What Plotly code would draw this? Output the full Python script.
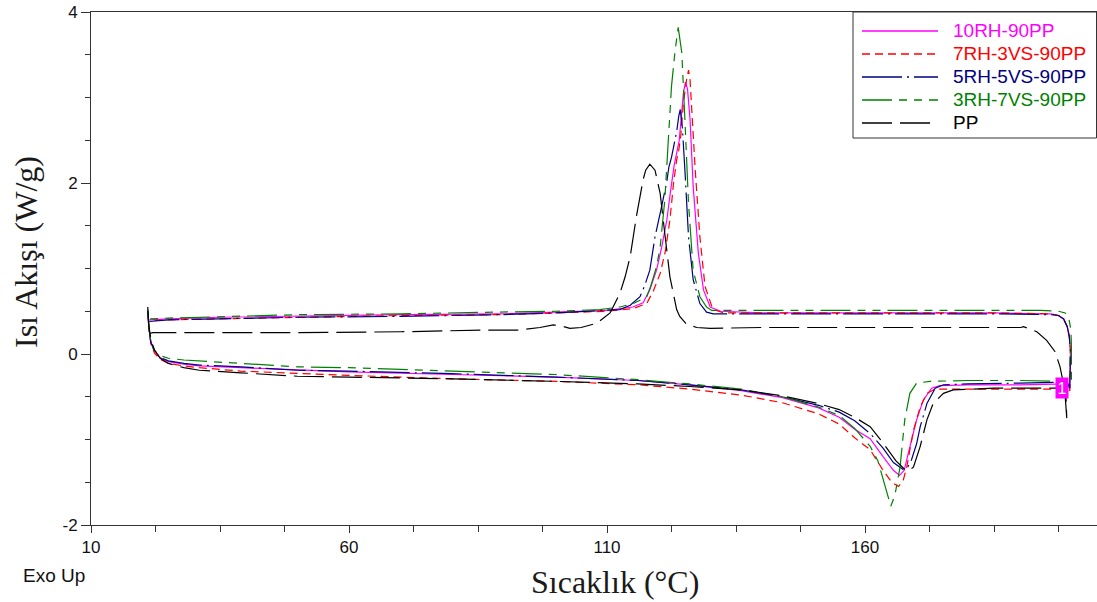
import plotly.graph_objects as go

# ---------------- data ----------------
names = ["10RH-90PP", "7RH-3VS-90PP", "5RH-5VS-90PP", "3RH-7VS-90PP", "PP"]

# heating runs (lower curves, T in degC, heat flow in W/g)
heat_t_10rh = [21.0, 21.2, 21.6, 22.3, 23.4, 25, 28, 31, 39, 50, 60, 80, 100, 116, 126, 136, 144, 151, 155, 158, 161, 163.5, 165.5, 166.7, 167.6, 168.4, 169.2, 170, 171.3, 172.9, 174.5, 180, 190, 199.2]
heat_q_10rh = [0.50, 0.32, 0.14, 0.03, -0.04, -0.09, -0.12, -0.14, -0.16, -0.19, -0.21, -0.24, -0.27, -0.31, -0.36, -0.43, -0.51, -0.63, -0.74, -0.88, -0.99, -1.20, -1.36, -1.42, -1.36, -1.16, -0.96, -0.77, -0.54, -0.40, -0.37, -0.36, -0.36, -0.35]
heat_t_7rh = [21.0, 21.2, 21.6, 22.3, 23.4, 25, 28, 31, 39, 50, 60, 80, 100, 116, 126, 136, 144, 151, 155, 158, 161, 163.5, 165.2, 166.5, 167.4, 168.1, 168.8, 169.4, 170.7, 172, 173.6, 180, 190, 199.2]
heat_q_7rh = [0.50, 0.30, 0.12, 0.01, -0.06, -0.11, -0.14, -0.16, -0.20, -0.23, -0.25, -0.29, -0.32, -0.36, -0.41, -0.48, -0.57, -0.70, -0.82, -0.98, -1.12, -1.36, -1.50, -1.55, -1.48, -1.32, -1.10, -0.89, -0.62, -0.46, -0.41, -0.41, -0.41, -0.41]
heat_t_5rh = [21.0, 21.2, 21.6, 22.3, 23.4, 25, 28, 31, 39, 50, 60, 80, 100, 116, 126, 136, 144, 151, 155, 158, 161, 163.5, 165.5, 167.4, 168.3, 169, 170, 170.7, 172, 173.6, 175.2, 180, 190, 199.2]
heat_q_5rh = [0.50, 0.32, 0.14, 0.03, -0.04, -0.08, -0.11, -0.13, -0.15, -0.19, -0.20, -0.23, -0.27, -0.31, -0.36, -0.42, -0.50, -0.60, -0.68, -0.78, -0.93, -1.10, -1.27, -1.35, -1.32, -1.24, -1.05, -0.85, -0.58, -0.40, -0.36, -0.35, -0.34, -0.33]
heat_t_3rh = [21.0, 21.2, 21.6, 22.3, 23.4, 25, 28, 31, 39, 50, 60, 80, 100, 116, 126, 136, 144, 151, 155, 158, 161, 162.5, 163.5, 164.3, 165.0, 165.8, 166.8, 167.7, 168.7, 170.0, 172.6, 180, 190, 199.7]
heat_q_3rh = [0.52, 0.32, 0.14, 0.04, -0.02, -0.05, -0.07, -0.08, -0.11, -0.15, -0.16, -0.20, -0.24, -0.30, -0.35, -0.41, -0.50, -0.62, -0.72, -0.87, -1.08, -1.25, -1.47, -1.65, -1.78, -1.65, -1.32, -0.77, -0.46, -0.34, -0.32, -0.31, -0.31, -0.32]
heat_t_pp = [21.0, 21.2, 21.6, 22.3, 23.4, 25, 28, 31, 39, 50, 60, 80, 100, 116, 126, 136, 144, 151, 155, 158, 161, 163.5, 166, 167.9, 168.7, 169.4, 170.7, 172, 173.2, 175.2, 177.1, 185, 192, 198.9, 199.1]
heat_q_pp = [0.55, 0.34, 0.16, 0.05, -0.05, -0.11, -0.16, -0.19, -0.22, -0.26, -0.27, -0.29, -0.32, -0.35, -0.38, -0.42, -0.49, -0.58, -0.65, -0.74, -0.85, -1.04, -1.25, -1.36, -1.36, -1.32, -1.08, -0.77, -0.58, -0.46, -0.42, -0.40, -0.40, -0.40, -0.75]

# cooling runs (upper curves, from 200 degC back down)
cool_t_10rh = [199.6, 199.8, 199.8, 199.6, 199.2, 198.5, 197.5, 196, 185, 160, 140, 132, 130, 128.7, 127.7, 126.7, 126.1, 125.6, 125.2, 124.8, 124.4, 124.0, 123.5, 123.0, 122.3, 121.6, 120.6, 119.6, 118.3, 117, 115, 110, 100, 89, 70, 50, 35, 25, 21.3]
cool_q_10rh = [-0.40, -0.20, 0.05, 0.20, 0.32, 0.41, 0.45, 0.47, 0.48, 0.48, 0.48, 0.50, 0.55, 0.75, 1.18, 1.96, 2.74, 3.10, 3.18, 3.05, 2.80, 2.50, 2.35, 2.20, 1.90, 1.57, 1.25, 0.98, 0.75, 0.60, 0.55, 0.51, 0.49, 0.47, 0.46, 0.445, 0.43, 0.41, 0.40]
cool_t_7rh = [199.7, 199.8, 199.8, 199.6, 199.2, 198.5, 197.5, 196, 185, 160, 140, 132.6, 131.2, 130.3, 129.0, 128.0, 127.1, 126.7, 126.4, 126.1, 125.8, 125.4, 124.8, 124.3, 123.9, 123.5, 122.9, 122.2, 121.3, 120.3, 119.0, 117.7, 115, 110, 100, 89, 70, 50, 35, 25, 21.3]
cool_q_7rh = [-0.43, -0.20, 0.05, 0.20, 0.32, 0.41, 0.45, 0.47, 0.48, 0.48, 0.48, 0.48, 0.51, 0.56, 0.79, 1.37, 2.15, 2.60, 2.93, 3.20, 3.32, 3.20, 2.93, 2.55, 2.38, 2.27, 2.00, 1.57, 1.20, 0.94, 0.74, 0.59, 0.53, 0.50, 0.48, 0.46, 0.45, 0.43, 0.41, 0.40, 0.39]
cool_t_5rh = [199.7, 199.8, 199.8, 199.6, 199.2, 198.5, 197.5, 196, 185, 160, 140, 130.6, 129.3, 128.0, 126.7, 125.8, 125.1, 124.6, 124.2, 123.9, 123.5, 123.0, 122.5, 122.0, 121.6, 120.5, 119.3, 118.3, 117.3, 116.4, 114.5, 112.5, 100, 89, 70, 50, 35, 25, 21.3]
cool_q_5rh = [-0.40, -0.20, 0.05, 0.20, 0.32, 0.41, 0.45, 0.46, 0.47, 0.47, 0.47, 0.47, 0.49, 0.59, 0.87, 1.37, 2.15, 2.65, 2.86, 2.78, 2.60, 2.43, 2.30, 2.19, 2.02, 1.70, 1.37, 0.98, 0.80, 0.67, 0.57, 0.52, 0.48, 0.46, 0.44, 0.43, 0.41, 0.40, 0.38]
cool_t_3rh = [200.0, 200.0, 199.9, 199.5, 198.8, 197.5, 194, 160, 140, 130.3, 129.3, 128.0, 126.7, 125.8, 125.1, 124.5, 123.8, 123.2, 122.5, 122.0, 121.6, 121.2, 120.3, 119.6, 118.5, 117.7, 115.1, 112.5, 108.6, 100, 89, 70, 50, 35, 25, 21.3]
cool_q_3rh = [-0.30, 0.10, 0.28, 0.42, 0.48, 0.50, 0.51, 0.51, 0.51, 0.51, 0.55, 0.67, 0.98, 1.76, 2.74, 3.52, 3.82, 3.55, 3.13, 2.60, 2.20, 1.80, 1.25, 1.02, 0.80, 0.67, 0.59, 0.55, 0.52, 0.50, 0.49, 0.47, 0.46, 0.44, 0.42, 0.41]
cool_t_pp = [198.8, 198.3, 197.8, 196.8, 195.2, 193.3, 191.5, 190.7, 190.2, 180, 160, 140, 130, 127.4, 125.4, 124.1, 123.5, 122.2, 121.2, 120.3, 119.3, 118.3, 117.5, 117, 115.7, 114.5, 113.5, 112.5, 110.6, 108, 105, 102.8, 101, 99.6, 97, 93, 86, 70, 50, 30, 22, 21.3]
cool_q_pp = [-0.50, -0.30, -0.15, 0.03, 0.16, 0.26, 0.30, 0.32, 0.31, 0.31, 0.31, 0.31, 0.30, 0.31, 0.35, 0.44, 0.52, 0.90, 1.41, 1.88, 2.15, 2.22, 2.15, 2.04, 1.61, 1.14, 0.90, 0.71, 0.48, 0.36, 0.31, 0.30, 0.33, 0.34, 0.31, 0.28, 0.28, 0.26, 0.25, 0.25, 0.25, 0.24]

heat_t = [heat_t_10rh, heat_t_7rh, heat_t_5rh, heat_t_3rh, heat_t_pp]
heat_q = [heat_q_10rh, heat_q_7rh, heat_q_5rh, heat_q_3rh, heat_q_pp]
cool_t = [cool_t_10rh, cool_t_7rh, cool_t_5rh, cool_t_3rh, cool_t_pp]
cool_q = [cool_q_10rh, cool_q_7rh, cool_q_5rh, cool_q_3rh, cool_q_pp]

x_ticks = [10, 60, 110, 160]
y_ticks = [-2, 0, 2, 4]
y_ticktext = ["-2", "0", "2", "4"]

# ---------------- styles ----------------
colors = ["#FF00FF", "#FF0000", "#000080", "#008000", "#000000"]
dashes = ["solid", "8px,5px", "40px,5px,2px,5px", "30px,7px,8px,7px,8px,7px", "30px,8px"]
SANS = "Liberation Sans, Arial, sans-serif"
SERIF = "Liberation Serif, Times New Roman, serif"

fig = go.Figure()
for i, nm in enumerate(names):
    fig.add_trace(go.Scatter(
        x=heat_t[i] + cool_t[i], y=heat_q[i] + cool_q[i],
        mode="lines", name=nm, showlegend=False,
        line=dict(color=colors[i], width=1.2, dash=dashes[i]),
    ))

W, H = 1097, 602
ML, MR, MT, MB = 91, 0, 12, 77
PLOT_L, PLOT_R, PLOT_T, PLOT_B = ML, W - MR, MT, H - MB
PW, PH = PLOT_R - PLOT_L, PLOT_B - PLOT_T

def px_x(p):
    return (p - PLOT_L) / PW

def px_y(p):
    return (PLOT_B - p) / PH

shapes = []
annotations = []
# legend box
shapes.append(dict(type="rect", xref="paper", yref="paper",
                   x0=px_x(853), x1=px_x(1096.5), y0=px_y(138), y1=px_y(12),
                   line=dict(color="#333333", width=1), fillcolor="white", layer="above"))
row_y = [30, 53, 76, 99, 122]
for i, nm in enumerate(names):
    shapes.append(dict(type="line", xref="paper", yref="paper",
                       x0=px_x(862), x1=px_x(938), y0=px_y(row_y[i] + 1), y1=px_y(row_y[i] + 1),
                       line=dict(color=colors[i], width=1.3, dash=dashes[i]), layer="above"))
    annotations.append(dict(xref="paper", yref="paper", x=px_x(951), y=px_y(row_y[i]),
                            xanchor="left", yanchor="middle", showarrow=False,
                            text=nm, font=dict(family=SANS, size=19, color=colors[i])))

# marker "1" at end of heating
annotations.append(dict(x=198.1, y=-0.40, xref="x", yref="y", showarrow=False,
                        text="1", bgcolor="#FF00FF", borderpad=1.5,
                        font=dict(family=SANS, size=16, color="white")))
# Exo Up
annotations.append(dict(xref="paper", yref="paper", x=px_x(21), y=px_y(575),
                        xanchor="left", yanchor="middle", showarrow=False,
                        text="Exo Up", font=dict(family=SANS, size=19, color="#111111")))
# axis titles
annotations.append(dict(xref="paper", yref="paper", x=px_x(615), y=px_y(582),
                        xanchor="center", yanchor="middle", showarrow=False,
                        text="Sıcaklık (°C)", font=dict(family=SERIF, size=32, color="#1a1a1a")))
annotations.append(dict(xref="paper", yref="paper", x=px_x(26), y=px_y(252),
                        xanchor="center", yanchor="middle", showarrow=False, textangle=-90,
                        text="Isı Akışı (W/g)", font=dict(family=SERIF, size=32, color="#1a1a1a")))

fig.update_layout(
    width=W, height=H,
    margin=dict(l=ML, r=MR, t=MT, b=MB, pad=0),
    paper_bgcolor="white", plot_bgcolor="white",
    showlegend=False,
    shapes=shapes, annotations=annotations,
    xaxis=dict(range=[10, 10 + PW / 5.16], tickmode="array", tickvals=x_ticks,
               ticks="outside", ticklen=7, tickwidth=1, tickcolor="#333333",
               showline=True, linecolor="#333333", linewidth=1, mirror=True,
               showgrid=False, zeroline=False, automargin=False,
               tickfont=dict(family=SANS, size=17, color="#111111"),
               minor=dict(tickmode="linear", tick0=10, dtick=12.5, ticks="outside",
                          ticklen=6, tickcolor="#333333", showgrid=False)),
    yaxis=dict(range=[-2, 4], tickmode="array", tickvals=y_ticks, ticktext=y_ticktext,
               ticks="outside", ticklen=9, tickwidth=1, tickcolor="#333333",
               showline=True, linecolor="#333333", linewidth=1, mirror=False,
               showgrid=False, zeroline=False, automargin=False,
               ticklabeloverflow="allow",
               tickfont=dict(family=SANS, size=17, color="#111111"),
               minor=dict(tickmode="linear", tick0=0, dtick=0.5, ticks="outside",
                          ticklen=5, tickcolor="#333333", showgrid=False)),
)

# remove the default 8px page margin so the figure sits at the window's top-left corner
fig.write_html("out.html", config={"displayModeBar": False},
               post_script="document.body.style.margin='0';")
